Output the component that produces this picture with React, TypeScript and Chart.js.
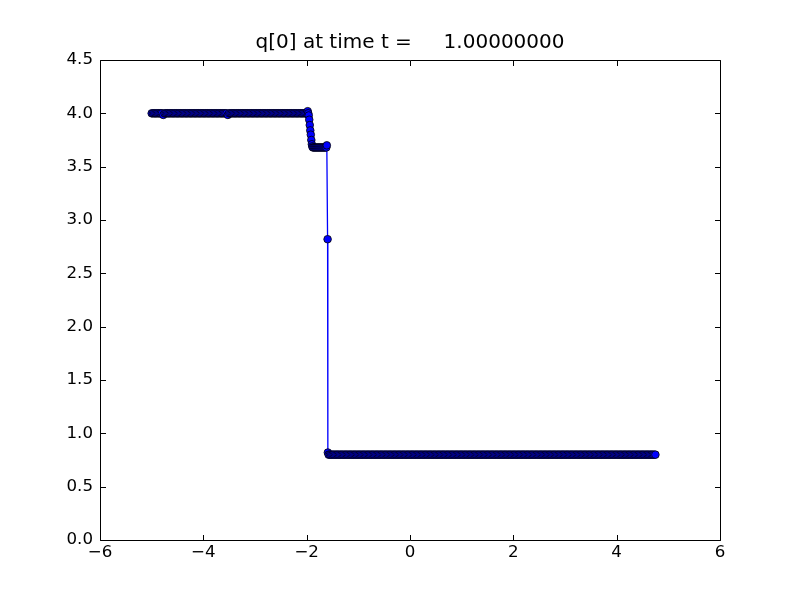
import React, { useEffect, useRef } from "react";
import { Chart, registerables } from "chart.js";

Chart.register(...registerables);

const titleText = "q[0] at time t =     1.00000000";
const xTickValues = [-6, -4, -2, 0, 2, 4, 6];
const yTickValues = [0, 0.5, 1, 1.5, 2, 2.5, 3, 3.5, 4, 4.5];

const xValues = [
  -5.000, -4.975, -4.950, -4.925, -4.900, -4.875, -4.850, -4.825, -4.800, -4.775,
  -4.750, -4.725, -4.700, -4.675, -4.650, -4.625, -4.600, -4.575, -4.550, -4.525,
  -4.500, -4.475, -4.450, -4.425, -4.400, -4.375, -4.350, -4.325, -4.300, -4.275,
  -4.250, -4.225, -4.200, -4.175, -4.150, -4.125, -4.100, -4.075, -4.050, -4.025,
  -4.000, -3.975, -3.950, -3.925, -3.900, -3.875, -3.850, -3.825, -3.800, -3.775,
  -3.750, -3.725, -3.700, -3.675, -3.650, -3.625, -3.600, -3.575, -3.550, -3.525,
  -3.500, -3.475, -3.450, -3.425, -3.400, -3.375, -3.350, -3.325, -3.300, -3.275,
  -3.250, -3.225, -3.200, -3.175, -3.150, -3.125, -3.100, -3.075, -3.050, -3.025,
  -3.000, -2.975, -2.950, -2.925, -2.900, -2.875, -2.850, -2.825, -2.800, -2.775,
  -2.750, -2.725, -2.700, -2.675, -2.650, -2.625, -2.600, -2.575, -2.550, -2.525,
  -2.500, -2.475, -2.450, -2.425, -2.400, -2.375, -2.350, -2.325, -2.300, -2.275,
  -2.250, -2.225, -2.200, -2.175, -2.150, -2.125, -2.100, -2.075, -2.050, -2.025,
  -2.000,
  -1.98, -1.97, -1.96, -1.95, -1.94, -1.93, -1.92, -1.91, -1.90, -1.89,
  -1.88, -1.86, -1.84, -1.82, -1.80, -1.78, -1.76, -1.74, -1.72, -1.70,
  -1.68, -1.66, -1.64, -1.62, -1.61, -1.595, -1.59, -1.575,
  -1.550, -1.525, -1.500, -1.475, -1.450, -1.425, -1.400, -1.375, -1.350, -1.325,
  -1.300, -1.275, -1.250, -1.225, -1.200, -1.175, -1.150, -1.125, -1.100, -1.075,
  -1.050, -1.025, -1.000, -0.975, -0.950, -0.925, -0.900, -0.875, -0.850, -0.825,
  -0.800, -0.775, -0.750, -0.725, -0.700, -0.675, -0.650, -0.625, -0.600, -0.575,
  -0.550, -0.525, -0.500, -0.475, -0.450, -0.425, -0.400, -0.375, -0.350, -0.325,
  -0.300, -0.275, -0.250, -0.225, -0.200, -0.175, -0.150, -0.125, -0.100, -0.075,
  -0.050, -0.025, 0.000, 0.025, 0.050, 0.075, 0.100, 0.125, 0.150, 0.175,
  0.200, 0.225, 0.250, 0.275, 0.300, 0.325, 0.350, 0.375, 0.400, 0.425,
  0.450, 0.475, 0.500, 0.525, 0.550, 0.575, 0.600, 0.625, 0.650, 0.675,
  0.700, 0.725, 0.750, 0.775, 0.800, 0.825, 0.850, 0.875, 0.900, 0.925,
  0.950, 0.975, 1.000, 1.025, 1.050, 1.075, 1.100, 1.125, 1.150, 1.175,
  1.200, 1.225, 1.250, 1.275, 1.300, 1.325, 1.350, 1.375, 1.400, 1.425,
  1.450, 1.475, 1.500, 1.525, 1.550, 1.575, 1.600, 1.625, 1.650, 1.675,
  1.700, 1.725, 1.750, 1.775, 1.800, 1.825, 1.850, 1.875, 1.900, 1.925,
  1.950, 1.975, 2.000, 2.025, 2.050, 2.075, 2.100, 2.125, 2.150, 2.175,
  2.200, 2.225, 2.250, 2.275, 2.300, 2.325, 2.350, 2.375, 2.400, 2.425,
  2.450, 2.475, 2.500, 2.525, 2.550, 2.575, 2.600, 2.625, 2.650, 2.675,
  2.700, 2.725, 2.750, 2.775, 2.800, 2.825, 2.850, 2.875, 2.900, 2.925,
  2.950, 2.975, 3.000, 3.025, 3.050, 3.075, 3.100, 3.125, 3.150, 3.175,
  3.200, 3.225, 3.250, 3.275, 3.300, 3.325, 3.350, 3.375, 3.400, 3.425,
  3.450, 3.475, 3.500, 3.525, 3.550, 3.575, 3.600, 3.625, 3.650, 3.675,
  3.700, 3.725, 3.750, 3.775, 3.800, 3.825, 3.850, 3.875, 3.900, 3.925,
  3.950, 3.975, 4.000, 4.025, 4.050, 4.075, 4.100, 4.125, 4.150, 4.175,
  4.200, 4.225, 4.250, 4.275, 4.300, 4.325, 4.350, 4.375, 4.400, 4.425,
  4.450, 4.475, 4.500, 4.525, 4.550, 4.575, 4.600, 4.625, 4.650, 4.675,
  4.700, 4.725, 4.750, 4.775, 4.800, 4.825, 4.850, 4.875, 4.900, 4.925,
  4.950, 4.975, 5.000,
];

const qValues = [
  4.00, 4.00, 4.00, 4.00, 4.00, 4.00, 4.00, 4.00, 4.00, 3.985,
  4.00, 4.00, 4.00, 4.00, 4.00, 4.00, 4.00, 4.00, 4.00, 4.00,
  4.00, 4.00, 4.00, 4.00, 4.00, 4.00, 4.00, 4.00, 4.00, 4.00,
  4.00, 4.00, 4.00, 4.00, 4.00, 4.00, 4.00, 4.00, 4.00, 4.00,
  4.00, 4.00, 4.00, 4.00, 4.00, 4.00, 4.00, 4.00, 4.00, 4.00,
  4.00, 4.00, 4.00, 4.00, 4.00, 4.00, 4.00, 4.00, 4.00, 3.985,
  4.00, 4.00, 4.00, 4.00, 4.00, 4.00, 4.00, 4.00, 4.00, 4.00,
  4.00, 4.00, 4.00, 4.00, 4.00, 4.00, 4.00, 4.00, 4.00, 4.00,
  4.00, 4.00, 4.00, 4.00, 4.00, 4.00, 4.00, 4.00, 4.00, 4.00,
  4.00, 4.00, 4.00, 4.00, 4.00, 4.00, 4.00, 4.00, 4.00, 4.00,
  4.00, 4.00, 4.00, 4.00, 4.00, 4.00, 4.00, 4.00, 4.00, 4.00,
  4.00, 4.00, 4.00, 4.00, 4.00, 4.00, 4.00, 4.00, 4.00, 4.00,
  4.00,
  4.02, 4.00, 3.98, 3.94, 3.89, 3.84, 3.80, 3.75, 3.71, 3.69,
  3.68, 3.68, 3.68, 3.68, 3.68, 3.68, 3.68, 3.68, 3.68, 3.68,
  3.68, 3.68, 3.68, 3.68, 3.70, 2.82, 0.82, 0.80,
  0.80, 0.80, 0.80, 0.80, 0.80, 0.80, 0.80, 0.80, 0.80, 0.80,
  0.80, 0.80, 0.80, 0.80, 0.80, 0.80, 0.80, 0.80, 0.80, 0.80,
  0.80, 0.80, 0.80, 0.80, 0.80, 0.80, 0.80, 0.80, 0.80, 0.80,
  0.80, 0.80, 0.80, 0.80, 0.80, 0.80, 0.80, 0.80, 0.80, 0.80,
  0.80, 0.80, 0.80, 0.80, 0.80, 0.80, 0.80, 0.80, 0.80, 0.80,
  0.80, 0.80, 0.80, 0.80, 0.80, 0.80, 0.80, 0.80, 0.80, 0.80,
  0.80, 0.80, 0.80, 0.80, 0.80, 0.80, 0.80, 0.80, 0.80, 0.80,
  0.80, 0.80, 0.80, 0.80, 0.80, 0.80, 0.80, 0.80, 0.80, 0.80,
  0.80, 0.80, 0.80, 0.80, 0.80, 0.80, 0.80, 0.80, 0.80, 0.80,
  0.80, 0.80, 0.80, 0.80, 0.80, 0.80, 0.80, 0.80, 0.80, 0.80,
  0.80, 0.80, 0.80, 0.80, 0.80, 0.80, 0.80, 0.80, 0.80, 0.80,
  0.80, 0.80, 0.80, 0.80, 0.80, 0.80, 0.80, 0.80, 0.80, 0.80,
  0.80, 0.80, 0.80, 0.80, 0.80, 0.80, 0.80, 0.80, 0.80, 0.80,
  0.80, 0.80, 0.80, 0.80, 0.80, 0.80, 0.80, 0.80, 0.80, 0.80,
  0.80, 0.80, 0.80, 0.80, 0.80, 0.80, 0.80, 0.80, 0.80, 0.80,
  0.80, 0.80, 0.80, 0.80, 0.80, 0.80, 0.80, 0.80, 0.80, 0.80,
  0.80, 0.80, 0.80, 0.80, 0.80, 0.80, 0.80, 0.80, 0.80, 0.80,
  0.80, 0.80, 0.80, 0.80, 0.80, 0.80, 0.80, 0.80, 0.80, 0.80,
  0.80, 0.80, 0.80, 0.80, 0.80, 0.80, 0.80, 0.80, 0.80, 0.80,
  0.80, 0.80, 0.80, 0.80, 0.80, 0.80, 0.80, 0.80, 0.80, 0.80,
  0.80, 0.80, 0.80, 0.80, 0.80, 0.80, 0.80, 0.80, 0.80, 0.80,
  0.80, 0.80, 0.80, 0.80, 0.80, 0.80, 0.80, 0.80, 0.80, 0.80,
  0.80, 0.80, 0.80, 0.80, 0.80, 0.80, 0.80, 0.80, 0.80, 0.80,
  0.80, 0.80, 0.80, 0.80, 0.80, 0.80, 0.80, 0.80, 0.80, 0.80,
  0.80, 0.80, 0.80, 0.80, 0.80, 0.80, 0.80, 0.80, 0.80, 0.80,
  0.80, 0.80, 0.80,
];

const FONT = "'DejaVu Sans', sans-serif";

const framePlugin = {
  id: "mplFrame",
  afterDraw(chart: any) {
    const { ctx, chartArea } = chart;
    const xs = chart.scales.x;
    const ys = chart.scales.y;
    const L = Math.round(chartArea.left) + 0.5;
    const R = Math.round(chartArea.right) + 0.5;
    const T = Math.round(chartArea.top) + 0.5;
    const B = Math.round(chartArea.bottom) + 0.5;
    ctx.save();
    ctx.strokeStyle = "#000";
    ctx.lineWidth = 1;
    ctx.beginPath();
    ctx.rect(L, T, R - L, B - T);
    ctx.stroke();
    const tl = 5.5;
    ctx.beginPath();
    for (const v of xTickValues) {
      const px = Math.round(xs.getPixelForValue(v)) + 0.5;
      ctx.moveTo(px, B);
      ctx.lineTo(px, B - tl);
      ctx.moveTo(px, T);
      ctx.lineTo(px, T + tl);
    }
    for (const v of yTickValues) {
      const py = Math.round(ys.getPixelForValue(v)) + 0.5;
      ctx.moveTo(L, py);
      ctx.lineTo(L + tl, py);
      ctx.moveTo(R, py);
      ctx.lineTo(R - tl, py);
    }
    ctx.stroke();
    ctx.fillStyle = "#000";
    ctx.font = `20px ${FONT}`;
    ctx.textAlign = "center";
    ctx.textBaseline = "alphabetic";
    ctx.fillText(titleText, (chartArea.left + chartArea.right) / 2, 48);
    ctx.restore();
  },
};

export default function App() {
  const ref = useRef<HTMLCanvasElement | null>(null);
  useEffect(() => {
    if (!ref.current) return;
    const data = xValues.map((x, i) => ({ x, y: qValues[i] }));
    const chart = new Chart(ref.current, {
      type: "line",
      data: {
        datasets: [
          {
            data,
            borderColor: "#0000ff",
            borderWidth: 1.3,
            pointRadius: 3.8,
            pointBackgroundColor: "#0000ff",
            pointBorderColor: "#000000",
            pointBorderWidth: 0.8,
            tension: 0,
            fill: false,
          },
        ],
      },
      options: {
        animation: false,
        responsive: false,
        maintainAspectRatio: false,
        events: [],
        layout: { padding: { top: 60, right: 80, left: 0, bottom: 0 } },
        plugins: {
          legend: { display: false },
          title: { display: false },
          tooltip: { enabled: false },
        },
        scales: {
          x: {
            type: "linear",
            min: -6,
            max: 6,
            grid: { display: false, drawTicks: false },
            border: { display: false },
            afterFit: (s: any) => {
              s.height = 60;
            },
            afterBuildTicks: (s: any) => {
              s.ticks = xTickValues.map((v) => ({ value: v }));
            },
            ticks: {
              padding: 3,
              color: "#000",
              font: { family: FONT, size: 16.67 },
              maxRotation: 0,
              autoSkip: false,
              callback: (v: any) => String(v).replace("-", "\u2212"),
            },
          },
          y: {
            type: "linear",
            min: 0,
            max: 4.5,
            grid: { display: false, drawTicks: false },
            border: { display: false },
            afterFit: (s: any) => {
              s.width = 100;
            },
            afterBuildTicks: (s: any) => {
              s.ticks = yTickValues.map((v) => ({ value: v }));
            },
            ticks: {
              padding: 7,
              color: "#000",
              font: { family: FONT, size: 16.67 },
              autoSkip: false,
              callback: (v: any) => Number(v).toFixed(1),
            },
          },
        },
      },
      plugins: [framePlugin],
    });
    return () => chart.destroy();
  }, []);
  return (
    <div style={{ position: "fixed", left: 0, top: 0, width: 800, height: 600, background: "#fff" }}>
      <canvas ref={ref} width={800} height={600} style={{ width: 800, height: 600 }} />
    </div>
  );
}
